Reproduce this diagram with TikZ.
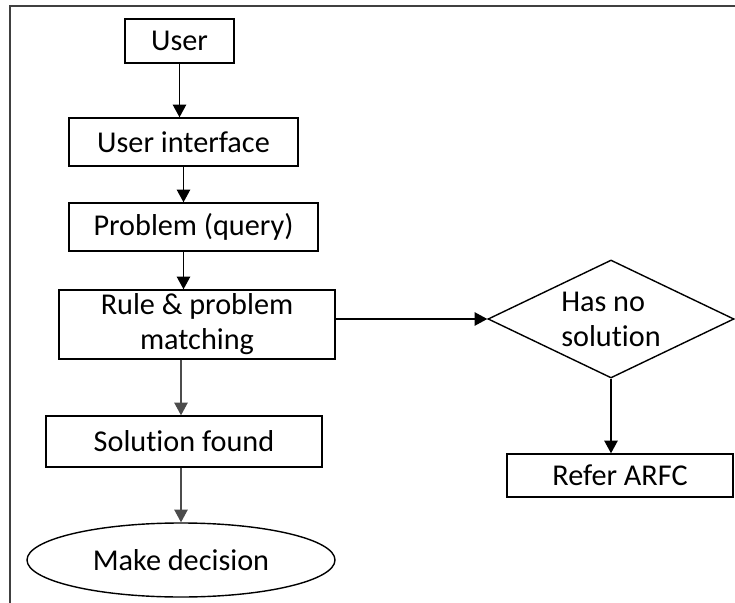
\documentclass[tikz,border=0pt]{standalone}
\usepackage{fontspec}
\setmainfont{Carlito}[Ligatures=NoCommon]
\usetikzlibrary{arrows.meta,shapes.geometric}
\newcommand{\px}{0.025cm}

\begin{document}
\begin{tikzpicture}[x=\px,y=-\px,>={Triangle[length=9pt,width=9.5pt]},
	box/.style={draw,line width=1pt,inner sep=0pt,align=center,font=\fontsize{21.5}{25}\selectfont},
	flow/.style={->,line width=1pt}]
	\useasboundingbox (0,0) rectangle (735,603);
	\draw [line width=1.3pt,black!75] (10,603) -- (10,6) -- (735,6) ;% frame, cut at the page edge
	
	% main column
	\node [box,minimum width=109*\px,minimum height=44*\px] (user)   at (179.5,41)  {User};
	\node [box,minimum width=229*\px,minimum height=48*\px] (ui)     at (183.5,142) {User interface};
	\node [box,minimum width=249*\px,minimum height=48*\px] (query)  at (193.5,227) {Problem (query)};
	\node [box,minimum width=276*\px,minimum height=69*\px] (match)  at (197,324.5) {Rule \& problem\\matching};
	\node [box,minimum width=276*\px,minimum height=51*\px] (found)  at (184,441.5) {Solution found};
	\node [box,ellipse,minimum width=308*\px,minimum height=74*\px] (decide) at (181,560) {Make decision};
	
	% side branch
	\node [box,diamond,aspect=2.08,minimum width=246*\px,minimum height=118*\px,align=left] (nosol) at (611,319) {Has no\\solution};
	\node [box,minimum width=226*\px,minimum height=43*\px] (arfc) at (620,475.5) {Refer ARFC};
	
	\draw [flow] (user) -- (user |- ui.north);
	\draw [flow] (ui) -- (ui |- query.north);
	\draw [flow] (query.south -| ui) -- (match.north -| ui);
	\draw [flow,black!70] (match.south -| decide) -- (found.north -| decide);
	\draw [flow,black!70] (found.south -| decide) -- (decide);
	\draw [flow] (match.east |- nosol) -- (nosol.west);
	\draw [flow] (nosol) -- (nosol |- arfc.north);
	
\end{tikzpicture}
\end{document}
